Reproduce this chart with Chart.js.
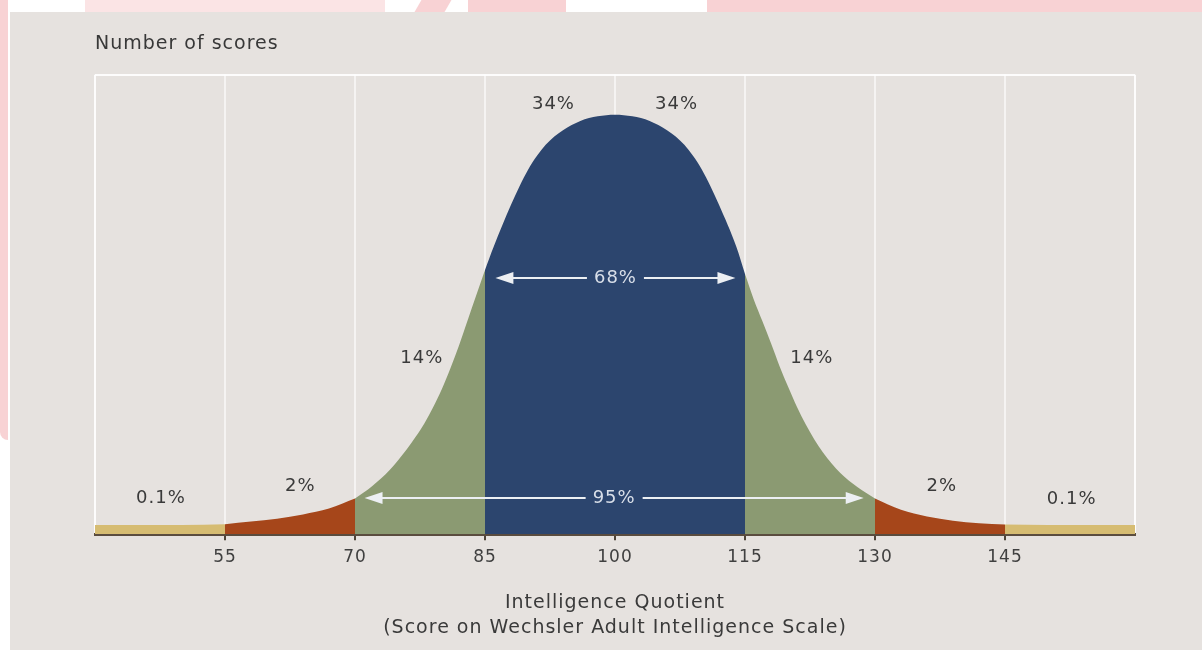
<!DOCTYPE html>
<html>
<head>
<meta charset="utf-8">
<title>Intelligence Quotient distribution</title>
<script src="https://cdn.jsdelivr.net/npm/chart.js@4.4.1/dist/chart.umd.min.js"></script>
<style>
  html, body { margin: 0; padding: 0; width: 1202px; height: 650px; overflow: hidden; background: #ffffff; }
  .deco { position: absolute; background: #f8d2d4; }
  #card { position: absolute; left: 10px; top: 12px; right: 0; bottom: 0; background: #e6e2df; }
  #wrap { position: absolute; left: 0; top: 0; width: 1202px; height: 650px; }
</style>
</head>
<body>
<!-- page decoration behind the card -->
<div class="deco" style="left:0;top:0;width:8px;height:440px;border-bottom-left-radius:8px"></div>
<div class="deco" style="left:85px;top:0;width:300px;height:12px;opacity:0.6"></div>
<div class="deco" style="left:418px;top:0;width:30px;height:12px;transform:skewX(-30deg)"></div>
<div class="deco" style="left:468px;top:0;width:98px;height:12px"></div>
<div class="deco" style="left:707px;top:0;width:495px;height:12px"></div>
<div id="card"></div>
<div id="wrap"><canvas id="iqChart" width="1202" height="650"></canvas></div>

<script>
// IQ scores along the x axis and the relative number of people at each score
const iqScores = [40, 45, 50, 55, 58, 61, 64, 67, 70, 72, 74, 76, 77, 78, 79, 80, 81, 82, 83, 84, 85, 86, 88, 89, 90, 91, 92, 93, 94, 96, 98, 100,
                  102, 104, 106, 107, 108, 109, 110, 111, 112, 114, 115, 116, 117, 118, 119, 120, 121, 122, 123, 124, 126, 128, 130,
                  133, 136, 139, 142, 145, 150, 155, 160];
const scoreCounts = [2.2, 2.2, 2.2, 2.4, 3.0, 3.7, 4.7, 6.1, 8.5, 11.5, 15.3, 20.3, 23.2, 26.4, 30.2, 34.5, 39.5, 45, 51, 57, 63, 68.5, 78.5, 83, 87, 90.2, 92.8, 94.8, 96.3, 98.5, 99.6, 100,
                     99.6, 98.5, 96.3, 94.8, 92.8, 90.2, 87, 83, 78.5, 68.5, 62, 56, 50.8, 45.5, 40, 35, 30.3, 26.2, 22.6, 19.5, 14.6, 11.2, 8.5,
                     5.8, 4.2, 3.2, 2.6, 2.3, 2.2, 2.2, 2.2];

// standard-deviation bands
const bandEdges = [40, 55, 70, 85, 115, 130, 145, 160];
const bandColors = ['#d6bc72', '#a6461a', '#8b9a72', '#2c456e', '#8b9a72', '#a6461a', '#d6bc72'];

// axis ticks
const tickValues = [40, 55, 70, 85, 100, 115, 130, 145, 160];
const tickLabels = ['', '55', '70', '85', '100', '115', '130', '145', ''];

// share labels placed in data coordinates
const calloutText  = ['34%', '34%', '14%', '14%', '2%', '2%', '0.1%', '0.1%'];
const calloutIQ    = [92.9, 107.1, 77.7, 122.7, 63.7, 137.7, 47.6, 152.7];
const calloutLevel = [102.4, 102.4, 42.0, 42.0, 11.3, 11.3, 8.5, 8.3];

// double-headed range arrows
const spanText  = ['68%', '95%'];
const spanFrom  = [86.2, 71.1];
const spanTo    = [113.9, 128.7];
const spanLevel = [61.0, 8.6];

const FONT = '"DejaVu Sans", Verdana, sans-serif';

const datasets = bandColors.map((color, i) => {
  const lo = bandEdges[i], hi = bandEdges[i + 1];
  const pts = [];
  iqScores.forEach((x, k) => { if (x >= lo && x <= hi) pts.push({ x: x, y: scoreCounts[k] }); });
  return {
    data: pts,
    fill: 'origin',
    backgroundColor: color,
    borderWidth: 0,
    pointRadius: 0,
    cubicInterpolationMode: 'monotone'
  };
});

// slightly open letter spacing for every text drawn on the canvas
const spacingPlugin = {
  id: 'letterSpacing',
  beforeDraw(chart) { chart.ctx.letterSpacing = '1px'; }
};

const labelPlugin = {
  id: 'bandLabels',
  afterDraw(chart) {
    const ctx = chart.ctx;
    const xs = chart.scales.x, ys = chart.scales.y;
    ctx.save();
    ctx.letterSpacing = '1px';
    ctx.textAlign = 'center';
    ctx.textBaseline = 'middle';
    ctx.font = '18px ' + FONT;
    ctx.fillStyle = '#3a3a3a';
    calloutText.forEach((t, i) => {
      ctx.fillText(t, xs.getPixelForValue(calloutIQ[i]), ys.getPixelForValue(calloutLevel[i]));
    });

    spanText.forEach((t, i) => {
      const xL = xs.getPixelForValue(spanFrom[i]);
      const xR = xs.getPixelForValue(spanTo[i]);
      const cx = (xL + xR) / 2;
      const y = Math.round(ys.getPixelForValue(spanLevel[i]));
      const gap = ctx.measureText(t).width / 2 + 7;
      ctx.strokeStyle = '#eceff3';
      ctx.fillStyle = '#eceff3';
      ctx.lineWidth = 2;
      ctx.beginPath();
      ctx.moveTo(xL + 10, y); ctx.lineTo(cx - gap, y);
      ctx.moveTo(cx + gap, y); ctx.lineTo(xR - 10, y);
      ctx.stroke();
      ctx.beginPath();
      ctx.moveTo(xL, y); ctx.lineTo(xL + 18, y - 6); ctx.lineTo(xL + 18, y + 6); ctx.closePath();
      ctx.moveTo(xR, y); ctx.lineTo(xR - 18, y - 6); ctx.lineTo(xR - 18, y + 6); ctx.closePath();
      ctx.fill();
      ctx.fillStyle = '#d9dfe9';
      ctx.fillText(t, cx, y);
    });
    ctx.restore();
  }
};

new Chart(document.getElementById('iqChart'), {
  type: 'line',
  data: { datasets: datasets },
  plugins: [spacingPlugin, labelPlugin],
  options: {
    responsive: false,
    animation: false,
    devicePixelRatio: 1,
    layout: { padding: { left: 95, right: 67, top: 28, bottom: 10 } },
    plugins: {
      legend: { display: false },
      tooltip: { enabled: false },
      title: {
        display: true,
        text: 'Number of scores',
        align: 'start',
        color: '#383838',
        font: { family: FONT, size: 19, weight: 'normal' },
        padding: { top: 5, bottom: 19 }
      }
    },
    scales: {
      x: {
        type: 'linear',
        min: 40,
        max: 160,
        z: 1,
        afterBuildTicks(scale) { scale.ticks = tickValues.map(v => ({ value: v })); },
        ticks: {
          color: '#404040',
          font: { family: FONT, size: 17 },
          padding: 7,
          maxRotation: 0,
          autoSkip: false,
          callback: (v) => tickLabels[tickValues.indexOf(v)]
        },
        grid: {
          lineWidth: 2,
          color: (c) => (c.tick && (c.tick.value === 40 || c.tick.value === 160)) ? 'rgba(255,255,255,0.9)' : 'rgba(255,255,255,0.6)',
          drawTicks: true,
          tickLength: 6,
          tickWidth: 2,
          tickColor: (c) => (c.tick && (c.tick.value === 40 || c.tick.value === 160)) ? 'rgba(0,0,0,0)' : '#4e4438'
        },
        border: { display: true, color: '#5a4c3e', width: 3 },
        title: {
          display: true,
          text: ['Intelligence Quotient', '(Score on Wechsler Adult Intelligence Scale)'],
          color: '#3a3a3a',
          font: { family: FONT, size: 19, lineHeight: 1.3 },
          padding: { top: 16, bottom: 0 }
        }
      },
      y: {
        min: 0,
        max: 109.5,
        afterBuildTicks(scale) { scale.ticks = [{ value: 0 }, { value: 109.5 }]; },
        ticks: { display: false },
        border: { display: false },
        grid: {
          drawTicks: false,
          lineWidth: 2,
          color: (c) => (c.tick && c.tick.value > 100) ? 'rgba(255,255,255,0.9)' : 'rgba(0,0,0,0)'
        }
      }
    }
  }
});
</script>
</body>
</html>
